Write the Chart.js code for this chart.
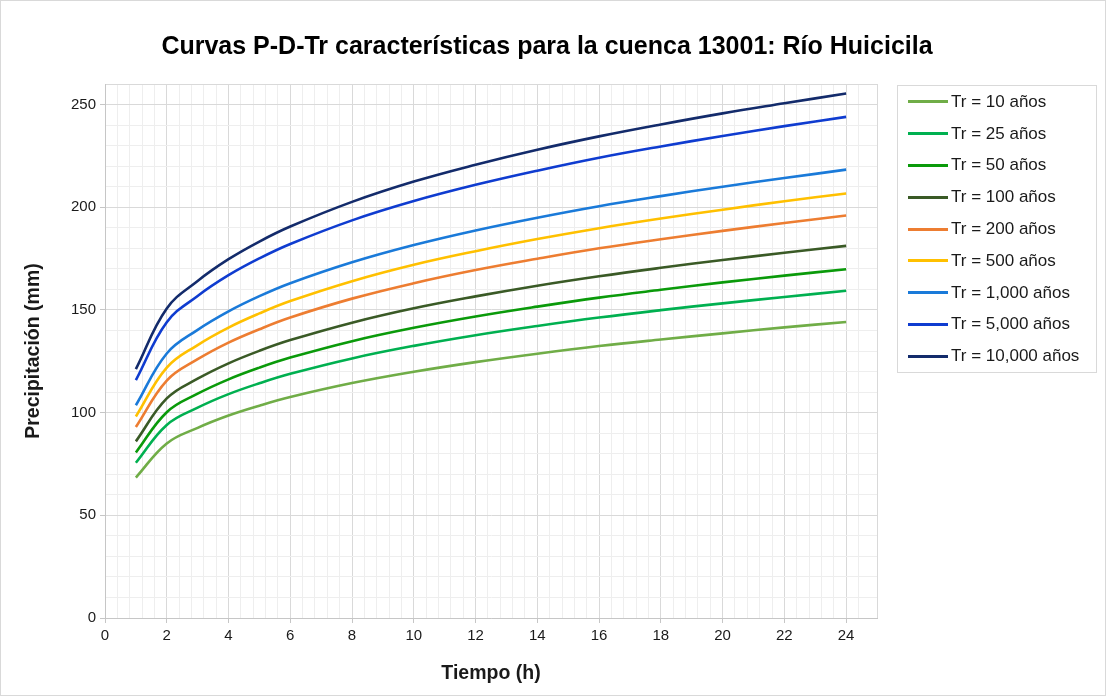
<!DOCTYPE html>
<html>
<head>
<meta charset="utf-8">
<script src="https://cdn.jsdelivr.net/npm/chart.js@4.4.1/dist/chart.umd.min.js"></script>
<style>
  html, body { margin: 0; padding: 0; background: #fff; }
  #frame {
    position: relative; width: 1104px; height: 694px;
    border: 1px solid #d9d9d9; background: #fff; overflow: hidden;
    font-family: "Liberation Sans", Arial, sans-serif;
  }
  #chart-title {
    position: absolute; left: 0; width: 1092px; top: 30px;
    text-align: center; font-weight: bold; font-size: 25px; color: #000;
  }
  #wrap { position: absolute; left: -1px; top: -1px; width: 1106px; height: 696px; }
  #legend {
    position: absolute; left: 896px; top: 84px; width: 200px; height: 288px;
    border: 1px solid #d9d9d9; box-sizing: border-box; padding-top: 0;
  }
  .legend-item { height: 31.8px; display: flex; align-items: center; padding-left: 10px; font-size: 17px; color: #1a1a1a; }
  .legend-line { width: 40px; height: 3px; margin-right: 3px; }
</style>
</head>
<body>
<div id="frame">
  <div id="wrap"><canvas id="pdtrChart"></canvas></div>
  <div id="chart-title">Curvas P-D-Tr características para la cuenca 13001: Río Huicicila</div>
  <div id="legend"></div>
</div>
<script>
// duración (h)
const durations = [1, 2, 3, 4, 5, 6, 8, 10, 12, 14, 16, 18, 20, 22, 24];

// precipitación (mm) por periodo de retorno
const tr10    = [68.4, 85.0, 92.6, 98.6, 103.4, 107.6, 114.4, 119.9, 124.6, 128.7, 132.4, 135.6, 138.6, 141.5, 144.1];
const tr25    = [75.6, 94.0, 102.4, 109.0, 114.3, 118.9, 126.4, 132.5, 137.7, 142.2, 146.3, 149.9, 153.2, 156.3, 159.3];
const tr50    = [80.6, 100.2, 109.2, 116.2, 121.9, 126.8, 134.8, 141.3, 146.8, 151.6, 156.0, 159.8, 163.4, 166.7, 169.8];
const tr100   = [86.0, 106.9, 116.5, 124.0, 130.1, 135.3, 143.8, 150.8, 156.6, 161.8, 166.4, 170.5, 174.3, 177.8, 181.2];
const tr200   = [93.0, 115.6, 126.0, 134.1, 140.6, 146.3, 155.5, 163.0, 169.4, 174.9, 180.0, 184.4, 188.5, 192.3, 196.0];
const tr500   = [98.1, 121.9, 132.9, 141.4, 148.3, 154.3, 164.0, 172.0, 178.6, 184.5, 189.8, 194.5, 198.8, 202.9, 206.7];
const tr1000  = [103.6, 128.8, 140.3, 149.3, 156.7, 163.0, 173.2, 181.6, 188.7, 194.9, 200.5, 205.4, 210.0, 214.2, 218.3];
const tr5000  = [115.8, 144.0, 156.8, 166.9, 175.1, 182.1, 193.6, 203.0, 210.9, 217.8, 224.1, 229.6, 234.7, 239.5, 244.0];
const tr10000 = [121.2, 150.7, 164.1, 174.7, 183.3, 190.6, 202.6, 212.5, 220.7, 228.0, 234.5, 240.3, 245.7, 250.6, 255.4];

const seriesNames = ["Tr = 10 años", "Tr = 25 años", "Tr = 50 años", "Tr = 100 años", "Tr = 200 años",
                     "Tr = 500 años", "Tr = 1,000 años", "Tr = 5,000 años", "Tr = 10,000 años"];
const seriesValues = [tr10, tr25, tr50, tr100, tr200, tr500, tr1000, tr5000, tr10000];
const seriesColors = ["#70AD47", "#00B050", "#0A9A0A", "#3A5A26", "#ED7D31",
                      "#FFC000", "#1A7AD9", "#0F3CD0", "#132B6B"];

const xMajorTicks = [0, 2, 4, 6, 8, 10, 12, 14, 16, 18, 20, 22, 24];
const yMajorTicks = [0, 50, 100, 150, 200, 250];

function isMajor(v, list) {
    return list.some(t => Math.abs(t - v) < 1e-6);
}

const datasets = seriesValues.map((vals, i) => ({
    label: seriesNames[i],
    data: vals.map((v, j) => ({ x: durations[j], y: v })),
    borderColor: seriesColors[i],
    backgroundColor: seriesColors[i],
    borderWidth: 2.6,
    pointRadius: 0,
    fill: false,
    tension: 0.4
}));

const fontFamily = '"Liberation Sans", Arial, sans-serif';

const ctx = document.getElementById('pdtrChart').getContext('2d');
const chart = new Chart(ctx, {
    type: 'line',
    data: { datasets: datasets },
    options: {
        responsive: true,
        maintainAspectRatio: false,
        animation: false,
        layout: { padding: { left: 0, right: 229, top: 84, bottom: 0 } },
        plugins: {
            legend: { display: false },
            title: { display: false },
            tooltip: { enabled: false }
        },
        scales: {
            x: {
                type: 'linear',
                min: 0,
                max: 25,
                afterFit: function (scale) { scale.height = 78; },
                border: { color: '#c6c6c6' },
                grid: {
                    color: c => isMajor(c.tick.value, xMajorTicks) || c.tick.value === 25 ? '#d9d9d9' : '#eeeeee',
                    tickColor: c => isMajor(c.tick.value, xMajorTicks) ? '#c6c6c6' : 'rgba(0,0,0,0)',
                    tickLength: 5
                },
                ticks: {
                    stepSize: 0.4,
                    autoSkip: false,
                    maxRotation: 0,
                    padding: 4,
                    color: '#1a1a1a',
                    font: { family: fontFamily, size: 15 },
                    callback: v => isMajor(v, xMajorTicks) ? String(Math.round(v)) : ''
                },
                title: {
                    display: true,
                    text: 'Tiempo (h)',
                    color: '#1a1a1a',
                    font: { family: fontFamily, size: 19.5, weight: 'bold' },
                    padding: { top: 0, bottom: 11 }
                }
            },
            y: {
                min: 0,
                max: 260,
                afterFit: function (scale) { scale.width = 105; },
                border: { color: '#c6c6c6' },
                grid: {
                    color: c => isMajor(c.tick.value, yMajorTicks) || c.tick.value === 260 ? '#d9d9d9' : '#eeeeee',
                    tickColor: c => isMajor(c.tick.value, yMajorTicks) ? '#c6c6c6' : 'rgba(0,0,0,0)',
                    tickLength: 5
                },
                ticks: {
                    stepSize: 10,
                    autoSkip: false,
                    padding: 4,
                    color: '#1a1a1a',
                    font: { family: fontFamily, size: 15 },
                    callback: v => isMajor(v, yMajorTicks) ? String(v) : ''
                },
                title: {
                    display: true,
                    text: 'Precipitación (mm)',
                    color: '#1a1a1a',
                    font: { family: fontFamily, size: 19.5, weight: 'bold' },
                    padding: { top: 22, bottom: 0 }
                }
            }
        }
    }
});

// leyenda en HTML
const legendBox = document.getElementById('legend');
seriesNames.forEach((name, i) => {
    const item = document.createElement('div');
    item.className = 'legend-item';
    item.innerHTML = `<span class="legend-line" style="background:${seriesColors[i]}"></span><span>${name}</span>`;
    legendBox.appendChild(item);
});
</script>
</body>
</html>
